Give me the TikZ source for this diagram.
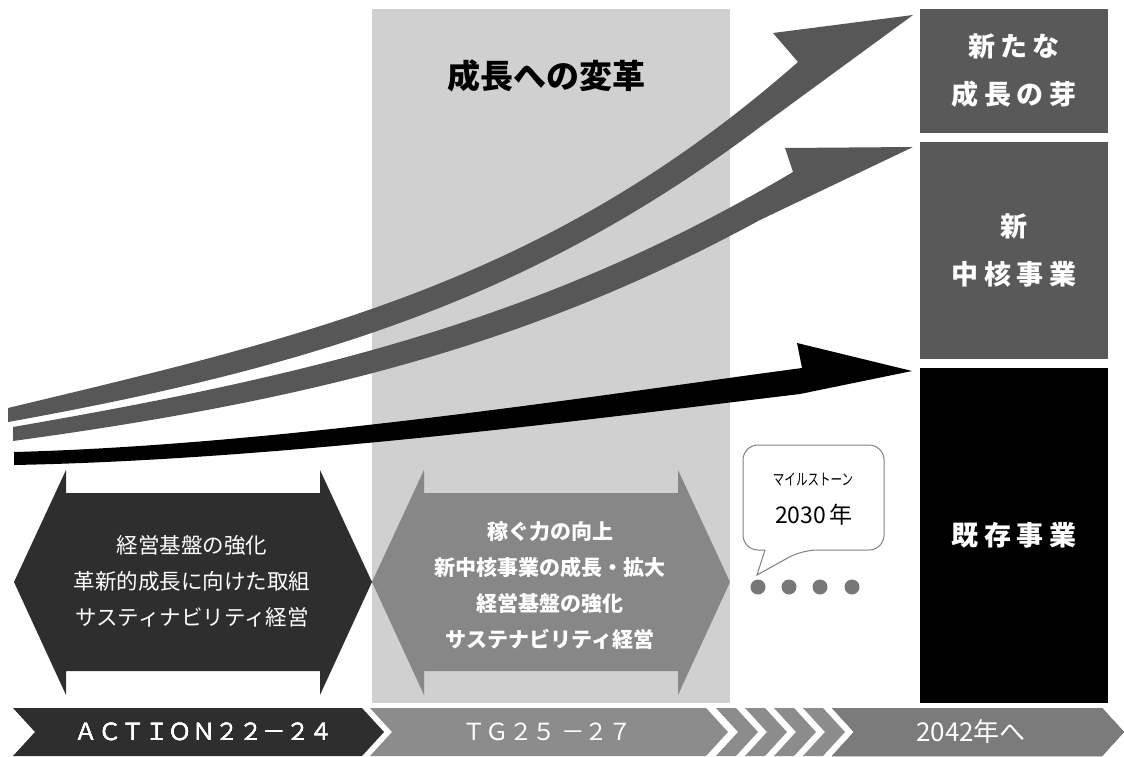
\documentclass[tikz,border=0pt]{standalone}
\usepackage{fontspec}
\setmainfont{Noto Sans CJK JP}
\newfontfamily\boxfont{Noto Sans CJK JP}[LetterSpace=20]
\usetikzlibrary{positioning}

\definecolor{stagegray}{RGB}{208,208,208}
\definecolor{trendgray}{RGB}{87,87,87}
\definecolor{boxgray}{RGB}{89,89,89}
\definecolor{phasedark}{RGB}{46,46,46}
\definecolor{phasemid}{RGB}{135,135,135}
\definecolor{bandmid}{RGB}{140,140,140}
\definecolor{bandend}{RGB}{123,123,123}
\definecolor{dotgray}{RGB}{119,119,119}

% double headed phase arrow: left point x, right point x, colour
\newcommand\twoway[3]{%
  \fill[#3] (#1,582) -- ++(52,-112) -- ++(0,23) -| ({#2-52},470)
    -- (#2,582) -- ({#2-52},695) -- ++(0,-24) -| ({#1+52},695) -- cycle;}
% chevron of the time band: top left x, top right x, colour
\newcommand\bandchevron[3]{%
  \fill[#3] (#1,708) -- (#2,708) -- ++(22,24) -- (#2,756) -- (#1,756)
    -- ++(22,-24) -- cycle;}

\begin{document}
\begin{tikzpicture}[x=1pt,y=-1pt,
  biz/.style={text=white,inner sep=0pt,minimum width=188pt,align=center,
    font=\boxfont\bfseries\fontsize{27}{48}\selectfont},
  phasetext/.style={text=white,align=center,inner sep=0pt,
    font=\fontsize{21.5}{36}\selectfont},
  bandtext/.style={text=white,inner sep=0pt,font=\fontsize{23.5}{28}\selectfont},
  bubble/.style={draw=black!50,line width=1pt,fill=white}]
  \useasboundingbox (0,0) rectangle (1124,757);

  % transformation period
  \fill[stagegray] (372,9) rectangle (730,703);
  \node[font=\bfseries\fontsize{33}{40}\selectfont] (title) at (546,76) {成長への変革};

  % business boxes
  \node[biz,fill=boxgray,minimum height=124pt] (sprout) at (1014,71) {新たな\\成長の芽};
  \node[biz,fill=boxgray,minimum height=217pt] (newcore) at (1014,250.5) {新\\中核事業};
  \node[biz,fill=black,minimum height=335pt] (existing) at (1014,535.5) {既存事業};

  % growth arrows
  \fill[trendgray] (8,408) .. controls (308,336) and (548,282) .. (798,62)
    -- (773,33) -- (913,15) -- (760,127)
    .. controls (530,300) and (308,368) .. (8,422) -- cycle;
  \fill[trendgray] (13,427) .. controls (313,375) and (543,320) .. (793,172)
    -- (785,148) -- (913,147) -- (760,220)
    .. controls (530,345) and (313,400) .. (13,441) -- cycle;
  \fill[black] (14,452) .. controls (280,445) and (600,395) .. (802,368)
    -- (797,343) -- (912,371) -- (800,394)
    .. controls (600,418) and (280,460) .. (14,465) -- cycle;

  % phases
  \twoway{14}{372}{phasedark}
  \twoway{372}{730}{phasemid}
  \node[phasetext] (actiontext) at (192,581)
    {経営基盤の強化\\革新的成長に向けた取組\\サスティナビリティ経営};
  \node[phasetext,font=\bfseries\fontsize{21}{36}\selectfont] (tgtext) at (550,586)
    {稼ぐ力の向上\\新中核事業の成長・拡大\\経営基盤の強化\\サステナビリティ経営};

  % milestone
  \draw[bubble] (757,575) -- (765,550) [rounded corners=15pt] -- (743,550)
    -- (743,445) -- (884,445) -- (884,550) -- (802,550) [sharp corners] -- cycle;
  \node[font=\fontsize{16}{18}\selectfont] (mstitle) at (813,480)
    {\scalebox{0.72}[1]{マイルストーン}};
  \node[font=\fontsize{23}{26}\selectfont] (msyear) at (814,515) {2030\,年};
  \foreach \x [count=\i] in {758,789,820,852}
    \fill[dotgray] (\x,587) circle (7.5pt) coordinate (dot\i);

  % time band
  \bandchevron{13}{362}{phasedark}
  \bandchevron{370}{706}{bandmid}
  \foreach \i in {0,...,3}
    \bandchevron{716+29*\i}{736+29*\i}{bandmid}
  \bandchevron{832}{1102}{bandend}
  \node[bandtext] (action) at (204,732) {ＡＣＴＩＯＮ２２－２４};
  \node[bandtext] (tg) at (547,732) {ＴＧ２５ －２７};
  \node[bandtext,font=\fontsize{26}{30}\selectfont] (goal) at (971,732) {2042年へ};
\end{tikzpicture}
\end{document}
